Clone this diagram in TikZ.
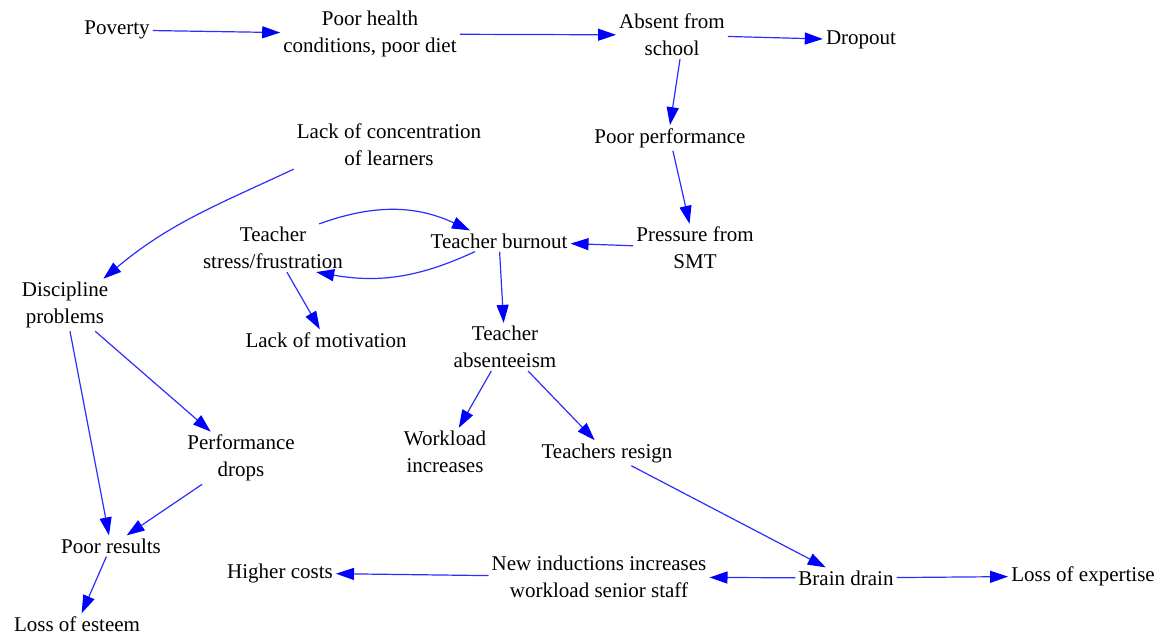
\documentclass[tikz,border=0pt]{standalone}
\usepackage{fontspec}
\setmainfont{Liberation Serif}
\newfontfamily\tnr{Liberation Serif}
\usetikzlibrary{arrows.meta}
\definecolor{lineblue}{RGB}{45,45,255}
\begin{document}
\begin{tikzpicture}[x=1pt,y=1pt,
  lbl/.style={align=center,inner sep=3pt,font=\tnr\fontsize{21}{27}\selectfont},
  conn/.style={draw=lineblue,line width=1.2pt,-{Triangle[length=18pt,width=12pt,color=blue]}},
]
\useasboundingbox[fill=white] (0,0) rectangle (1168,639);
% nodes
\node[lbl] (pov) at (117,609) {Poverty};
\node[lbl] (ph) at (370,605) {Poor health\\conditions, poor diet};
\node[lbl] (ab) at (672,604) {Absent from\\school};
\node[lbl] (dr) at (861,599) {Dropout};
\node[lbl] (pp) at (670,501) {Poor performance};
\node[lbl] (pr) at (695,391) {Pressure from\\SMT};
\node[lbl] (tb) at (499,398) {Teacher burnout};
\node[lbl] (ts) at (273,391) {Teacher\\stress/frustration};
\node[lbl] (lc) at (389,494) {Lack of concentration\\of learners};
\node[lbl] (dp) at (65,334) {Discipline\\problems};
\node[lbl] (lm) at (326,299) {Lack of motivation};
\node[lbl] (ta) at (505,292) {Teacher\\absenteeism};
\node[lbl] (wi) at (445,187) {Workload\\increases};
\node[lbl] (tr) at (607,186) {Teachers resign};
\node[lbl] (pd) at (241,181) {Performance\\drops};
\node[lbl] (pres) at (111,93) {Poor results};
\node[lbl] (le) at (77,15) {Loss of esteem};
\node[lbl] (hc) at (280,66) {Higher costs};
\node[lbl] (ni) at (599,62) {New inductions increases\\workload senior staff};
\node[lbl] (bd) at (846,61) {Brain drain};
\node[lbl] (lx) at (1083,63) {Loss of expertise};
% connectors
\draw[conn] (pov) -- (ph);
\draw[conn] (ph) -- (ab);
\draw[conn] (ab) -- (dr);
\draw[conn] ([xshift=8pt]ab.south) -- (pp.north);
\draw[conn] (pp) -- (pr);
\draw[conn] (pr) -- (tb);
\draw[conn] ([xshift=-27pt]ts.north east) to[out=20,in=155] ([xshift=-29pt]tb.north);
\draw[conn] ([xshift=-24pt]tb.south) to[out=205,in=-10] ([xshift=-30pt]ts.south east);
\draw[conn] (ts) -- (lm);
\draw[conn] (tb) -- (ta);
\draw[conn] (lc.south west) to[out=205,in=40] ([xshift=-8pt]dp.north east);
\draw[conn] (dp) -- (pres);
\draw[conn] (dp) -- (pd);
\draw[conn] (pd) -- (pres);
\draw[conn] (pres) -- (le);
\draw[conn] (ta) -- (wi);
\draw[conn] (ta) -- (tr);
\draw[conn] (tr) -- (bd);
\draw[conn] (ni) -- (hc);
\draw[conn] (bd) -- (ni);
\draw[conn] (bd) -- (lx);
\end{tikzpicture}
\end{document}
